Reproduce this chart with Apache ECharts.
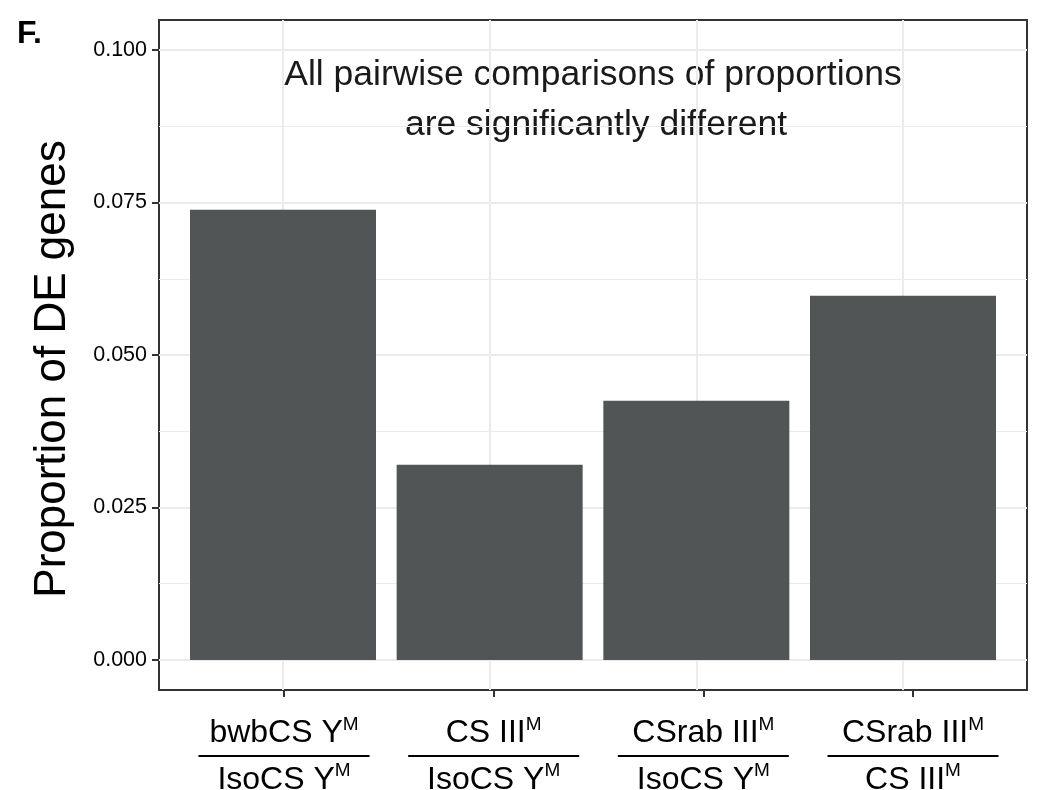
<!DOCTYPE html>
<html>
<head>
<meta charset="utf-8">
<script src="https://cdn.jsdelivr.net/npm/echarts@6/dist/echarts.min.js"></script>
<style>
  html, body { margin: 0; padding: 0; background: #fff; }
  #chart { width: 1040px; height: 790px; }
</style>
</head>
<body>
<div id="chart"></div>
<script>
// ---- data ----
var numerators = ['bwbCS Y', 'CS III', 'CSrab III', 'CSrab III'];
var denominators = ['IsoCS Y', 'IsoCS Y', 'IsoCS Y', 'CS III'];
var superscript = 'M';
var proportions = [0.0738, 0.0320, 0.0425, 0.0597];
var categoryPositions = [1, 2, 3, 4];
var yTicks = [0, 0.025, 0.05, 0.075, 0.1];
var yMinorTicks = [0.0125, 0.0375, 0.0625, 0.0875];
var yTitle = 'Proportion of DE genes';
var annotationLines = ['All pairwise comparisons of proportions', 'are significantly different'];
var panelLabel = 'F.';

var FONT = "'Liberation Sans', Arial, Helvetica, sans-serif";
var chart = echarts.init(document.getElementById('chart'), null, { renderer: 'canvas' });

var barData = categoryPositions.map(function (x, i) { return [x, proportions[i]]; });

var option = {
  backgroundColor: '#ffffff',
  animation: false,
  grid: {
    left: 159, right: 13, top: 20, bottom: 100,
    containLabel: false, outerBoundsMode: 'none',
    show: true, borderColor: '#333333', borderWidth: 2, backgroundColor: 'transparent'
  },
  xAxis: [
    { // bar placement axis (gridlines)
      type: 'value', position: 'top', min: 0.4, max: 4.6,
      axisLine: { show: false, onZero: false },
      axisTick: { show: false, customValues: categoryPositions },
      axisLabel: { show: false, customValues: categoryPositions },
      splitLine: { show: true, lineStyle: { color: '#EBEBEB', width: 2 } }
    },
    { // tick + label axis
      type: 'value', position: 'bottom', min: 0.4038, max: 4.5437,
      axisLine: { show: false, onZero: false },
      axisTick: { show: true, inside: false, length: 7, customValues: categoryPositions,
                  lineStyle: { color: '#333333', width: 2 } },
      splitLine: { show: false },
      axisLabel: {
        show: true, customValues: categoryPositions, margin: 25,
        color: '#000', fontFamily: FONT,
        formatter: function (v) {
          var i = Math.round(v) - 1;
          if (i < 0 || i >= numerators.length) return '';
          return '{n|' + numerators[i] + '}{s|' + superscript + '}\n{bar| }\n{d|' + denominators[i] + '}{s|' + superscript + '}';
        },
        rich: {
          n: { fontSize: 32, lineHeight: 36, color: '#000', fontFamily: FONT },
          d: { fontSize: 32, lineHeight: 38, color: '#000', fontFamily: FONT },
          s: { fontSize: 19, lineHeight: 22, verticalAlign: 'top', color: '#000', fontFamily: FONT },
          bar: { width: 171, height: 2, lineHeight: 10, fontSize: 2, backgroundColor: '#000' }
        }
      }
    }
  ],
  yAxis: [
    {
      type: 'value', min: -0.00492, max: 0.10492, position: 'left',
      axisLine: { show: false, onZero: false },
      axisTick: { show: true, length: 7, customValues: yTicks, lineStyle: { color: '#333333', width: 2 } },
      axisLabel: { show: true, customValues: yTicks, margin: 12, color: '#000', fontSize: 21.5, fontFamily: FONT,
                   formatter: function (v) { return v.toFixed(3); } },
      splitLine: { show: true, lineStyle: { color: '#EBEBEB', width: 2 } }
    },
    {
      type: 'value', min: -0.00492, max: 0.10492, position: 'right',
      axisLine: { show: false, onZero: false },
      axisTick: { show: false, customValues: yMinorTicks },
      axisLabel: { show: false, customValues: yMinorTicks },
      splitLine: { show: true, lineStyle: { color: '#EBEBEB', width: 1.2 } }
    }
  ],
  series: [
    {
      type: 'bar', xAxisIndex: 0, yAxisIndex: 0,
      data: barData, barWidth: '90%',
      itemStyle: { color: '#515556' },
      silent: true
    }
  ],
  graphic: [
    { type: 'text', left: 17, top: 18,
      style: { text: panelLabel, fontSize: 32, fontWeight: 'bold', fontFamily: FONT, fill: '#000' } },
    { type: 'text', x: 53, y: 369, rotation: Math.PI / 2,
      style: { text: yTitle, fontSize: 44, fontFamily: FONT, fill: '#000', align: 'center', verticalAlign: 'middle' } },
    { type: 'text', x: 593, y: 75,
      style: { text: annotationLines[0], fontSize: 35.5, fontFamily: FONT, fill: '#1a1a1a', align: 'center', verticalAlign: 'middle' } },
    { type: 'text', x: 596, y: 125,
      style: { text: annotationLines[1], fontSize: 35.5, fontFamily: FONT, fill: '#1a1a1a', align: 'center', verticalAlign: 'middle' } }
  ]
};
chart.setOption(option);
</script>
</body>
</html>
